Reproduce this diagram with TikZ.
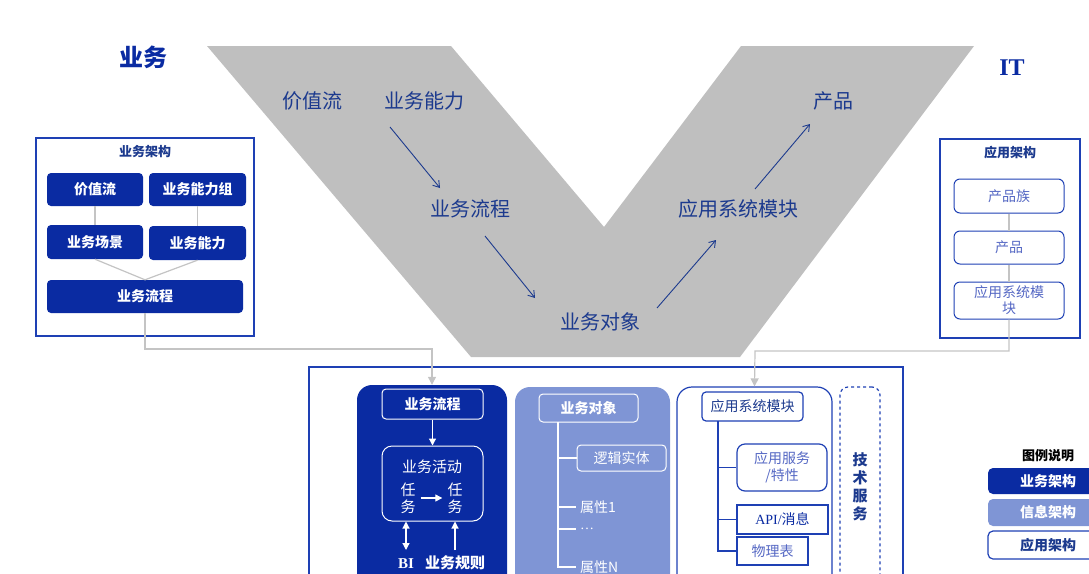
\documentclass[tikz,border=0pt]{standalone}
\usepackage{fontspec}
\setmainfont{Noto Sans CJK SC}
\newfontfamily\serifL{Liberation Serif}
\usetikzlibrary{arrows.meta,calc}
\definecolor{dkblue}{HTML}{0A2BA2}
\definecolor{ltblue}{HTML}{7F95D5}
\definecolor{navy}{HTML}{1C3A8E}
\definecolor{vgray}{HTML}{BFBFBF}
\definecolor{lnblue}{HTML}{1E40B4}
\definecolor{txblue}{HTML}{5568C4}
\definecolor{cgray}{HTML}{C4C4C4}
\tikzset{
  sz/.style 2 args={minimum width=#1, minimum height=#2, inner sep=0pt},
  frame/.style={draw=lnblue, line width=1.6pt, fill=white},
  dbtn/.style={fill=dkblue, rounded corners=4pt, text=white, font=\bfseries\fontsize{14}{16}\selectfont},
  wbtn/.style={draw=lnblue, line width=1pt, fill=white, rounded corners=6pt, text=txblue, font=\fontsize{14}{17}\selectfont, align=center},
  vtext/.style={text=navy, font=\fontsize{20}{22}\selectfont},
  varr/.style={navy, line width=0.9pt, -{Straight Barb[length=6pt,width=8pt]}},
  conn/.style={draw=cgray, line width=1.2pt},
  carr/.style={conn, -{Triangle[length=8pt,width=8pt]}},
  wline/.style={draw=white, line width=1.2pt},
  warr/.style={wline, -{Triangle[length=7pt,width=7pt]}},
  bline/.style={draw=lnblue, line width=1.2pt},
  wtxt/.style={text=white, font=\fontsize{14}{17}\selectfont, inner sep=4pt},
  ttl/.style={text=navy, font=\bfseries\fontsize{13}{15}\selectfont},
}
\begin{document}
\begin{tikzpicture}[x=1pt,y=-1pt]
\useasboundingbox (0,0) rectangle (1089,573);
% V shape
\fill[vgray] (207,46) -- (451,46) -- (604,227) -- (741,46) -- (974,46) -- (740,357) -- (471,357) -- cycle;
\node[vtext] (v1) at (312,101) {价值流};
\node[vtext] (v2) at (424,101) {业务能力};
\node[vtext] (v3) at (470,209) {业务流程};
\node[vtext] (v4) at (600,322) {业务对象};
\node[vtext] (v5) at (738,209) {应用系统模块};
\node[vtext] (v6) at (833,101) {产品};
\draw[varr] ($(v2)+(-34,26)$) -- ($(v3)+(-30,-21)$);
\draw[varr] ($(v3)+(15,27)$) -- ($(v4)+(-65,-24)$);
\draw[varr] ($(v4)+(57,-14)$) -- ($(v5)+(-22,31)$);
\draw[varr] ($(v5)+(17,-20)$) -- ($(v6)+(-23,23)$);
% titles
\node[text=dkblue, font=\bfseries\fontsize{24}{26}\selectfont] (tb) at (143,57) {业务};
\node[text=dkblue, font=\serifL\bfseries\fontsize{24}{26}\selectfont] (ti) at (1012,68) {IT};
% left box
\node[frame, sz={218}{198}] (ba) at (145,237) {};
\node[ttl] (bat) at (145,152) {业务架构};
\node[dbtn, sz={96}{33}] (jz) at (95,189.5) {价值流};
\node[dbtn, sz={97}{33}] (nlz) at (197.5,189.5) {业务能力组};
\node[dbtn, sz={96}{34}] (cj) at (95,242) {业务场景};
\node[dbtn, sz={97}{34}] (nl) at (197.5,243) {业务能力};
\node[dbtn, sz={196}{33}] (lc) at (145,296.5) {业务流程};
\draw[conn] (jz.south) -- (cj.north);
\draw[conn] (nlz.south) -- (nl.north);
\draw[conn] (cj.south) -- (lc.north);
\draw[conn] (nl.south) -- (lc.north);
% right box
\node[frame, sz={140}{199}] (aa) at (1010,238.5) {};
\node[ttl] (aat) at (1010,153) {应用架构};
\node[wbtn, sz={110}{34}] (cpz) at (1009,196) {产品族};
\node[wbtn, sz={110}{33}] (cp) at (1009,247.5) {产品};
\node[wbtn, sz={110}{37}, font=\fontsize{14}{16}\selectfont] (am) at (1009,300.5) {应用系统模\\块};
\draw[conn] (cpz.south) -- (cp.north);
\draw[conn] (cp.south) -- (am.north);
% bottom panel
\node[draw=lnblue, line width=1.4pt, sz={594}{230}] (bp) at (606,482) {};
\node[fill=dkblue, rounded corners=15pt, sz={150}{205}] (c1) at (432,487.5) {};
\node[fill=ltblue, rounded corners=15pt, sz={155}{202}] (c2) at (592.5,488) {};
\node[draw=lnblue, line width=1.2pt, fill=white, rounded corners=15pt, sz={155}{202}] (c3) at (754.5,488) {};
\node[draw=lnblue, line width=1.2pt, dashed, rounded corners=8pt, sz={40}{202}] (c4) at (860,488) {};
% connectors from top boxes
\coordinate (k1) at (432,349);
\coordinate (k2) at (755,351);
\draw[carr] (lc.south) |- (k1) -- (c1.north);
\draw[carr] (am.south) |- (k2) -- (c3.north);
% column 1
\node[draw=white, line width=1pt, rounded corners=4pt, sz={101}{30}, text=white, font=\bfseries\fontsize{14}{16}\selectfont] (c1a) at (432.5,404) {业务流程};
\node[draw=white, line width=1pt, rounded corners=10pt, sz={101}{75}] (c1b) at (432.5,483.5) {};
\node[text=white, font=\fontsize{15}{17}\selectfont] (hd) at (432,467) {业务活动};
\node[text=white, font=\fontsize{15}{17}\selectfont, align=center, inner sep=0pt] (rw1) at (408,498) {任\\务};
\node[text=white, font=\fontsize{15}{17}\selectfont, align=center, inner sep=0pt] (rw2) at (455,498) {任\\务};
\draw[warr] ($(rw1.east)+(5,0)$) -- ($(rw2.west)+(-5,0)$);
\draw[warr] (c1a.south) -- (c1b.north);
\node[text=white, font=\serifL\bfseries\fontsize{15}{17}\selectfont, inner sep=1pt] (bi) at (406,564) {BI};
\node[text=white, font=\bfseries\fontsize{15}{17}\selectfont, inner sep=1pt] (gz) at (455,563) {业务规则};
\coordinate (bia) at (406,550);
\coordinate (gza) at (455,550);
\draw[wline, {Triangle[length=7pt,width=7pt]}-{Triangle[length=7pt,width=7pt]}] (bia |- c1b.south) -- (bia);
\draw[warr] (gza) -- (gza |- c1b.south);
% column 2
\node[draw=white, line width=1pt, rounded corners=4pt, sz={99}{28}, text=white, font=\bfseries\fontsize{14}{16}\selectfont] (dxb) at (588.5,408) {业务对象};
\node[draw=white, line width=1pt, rounded corners=4pt, sz={89}{26}, text=white, font=\fontsize{14}{16}\selectfont] (lj) at (621.5,458) {逻辑实体};
\node[wtxt, anchor=west] (p1) at (576,507) {属性1};
\node[wtxt, anchor=west, font=\serifL\fontsize{14}{17}\selectfont] (pd) at (576,529) {…};
\node[wtxt, anchor=west] (pn) at (576,567) {属性N};
\coordinate (t2) at (558,422);
\draw[wline] (t2) |- (pn.west);
\draw[wline] (t2 |- lj.west) -- (lj.west);
\draw[wline] (t2 |- p1.west) -- (p1.west);
\draw[wline] (t2 |- pd.west) -- (pd.west);
% column 3
\node[bline, fill=white, rounded corners=4pt, sz={101}{29}, text=navy, font=\fontsize{14}{16}\selectfont] (mk) at (752.5,406.5) {应用系统模块};
\node[bline, fill=white, rounded corners=8pt, sz={90}{47}, text=txblue, align=center, font=\fontsize{14}{17}\selectfont] (fw) at (782,467.5) {应用服务\\/特性};
\node[bline, fill=white, sz={91}{29}, text=dkblue, font=\fontsize{14}{16}\selectfont] (api) at (782.5,519.5) {{\serifL API/}消息};
\node[bline, fill=white, sz={71}{28}, text=txblue, font=\fontsize{14}{16}\selectfont] (wl) at (772.5,551) {物理表};
\coordinate (t3) at (718,421);
\draw[bline] (t3) |- (wl.west);
\draw[bline] (t3 |- fw.west) -- (fw.west);
\draw[bline] (t3 |- api.west) -- (api.west);
% column 4
\node[text=navy, font=\bfseries\fontsize{15}{18}\selectfont, align=center, inner sep=0pt] (js) at (860,487) {技\\术\\服\\务};
% legend
\node[text=black, font=\bfseries\fontsize{13}{15}\selectfont] (lg) at (1048,456) {图例说明};
\node[dbtn, rounded corners=5pt, sz={120}{26}] (lg1) at (1048,481) {业务架构};
\node[dbtn, fill=ltblue, rounded corners=5pt, sz={120}{27}] (lg2) at (1048,512.5) {信息架构};
\node[bline, fill=white, rounded corners=5pt, sz={120}{28}, text=navy, font=\bfseries\fontsize{14}{16}\selectfont] (lg3) at (1048,545) {应用架构};
\end{tikzpicture}
\end{document}
